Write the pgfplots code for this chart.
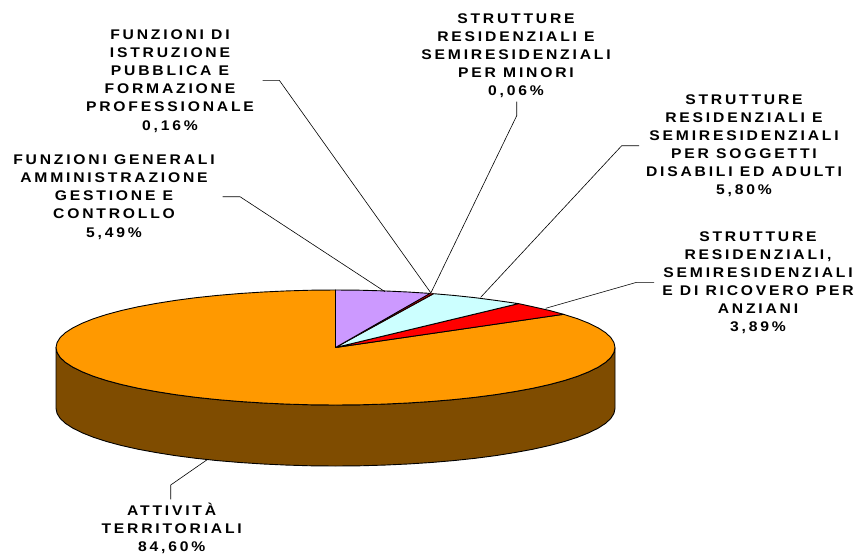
\documentclass[border=0pt]{standalone}
\usepackage{fontspec}
\setmainfont{Liberation Sans}
\newfontfamily\lblfont[LetterSpace=20,FakeStretch=1.12]{Liberation Sans Bold}
\usepackage{pgfplots}
\pgfplotsset{compat=1.18}
\definecolor{arancio}{HTML}{FF9900}
\definecolor{marrone}{HTML}{7F4C00}
\definecolor{lilla}{HTML}{CC99FF}
\definecolor{azzurro}{HTML}{CCFFFF}
\newcommand{\lab}[3]{\node[align=center,inner sep=0pt,font=\lblfont\fontsize{14}{18.1}\selectfont] at (axis cs:#1,#2) {#3};}
\begin{document}
\begin{tikzpicture}
\useasboundingbox (0,0) rectangle (861pt,554pt);
\begin{axis}[width=861pt,height=554pt,scale only axis,hide axis,clip=false,
  xmin=0,xmax=861,ymin=0,ymax=554,y dir=reverse]
% side wall of the disc
\addplot[draw=black,fill=marrone,line width=0.9pt,line join=round] coordinates {
 (615,347.5) (613.9,352.5) (610.8,357.5) (605.5,362.4) (598.1,367.2) (588.8,371.8) (577.6,376.25)
 (564.5,380.5) (549.6,384.5) (533.1,388.2) (515.2,391.5) (495.8,394.6) (475.25,397.3) (453.6,399.6)
 (431.1,401.5) (407.8,403) (384,404.1) (359.9,404.8) (335.5,405) (311.1,404.8) (287,404.1) (263.2,403)
 (239.9,401.5) (217.4,399.6) (195.75,397.3) (175.2,394.6) (155.8,391.5) (137.9,388.2) (121.4,384.5)
 (106.5,380.5) (93.4,376.25) (82.2,371.8) (72.9,367.2) (65.5,362.4) (60.2,357.5) (57.1,352.5) (56,347.5)
 (56,408.5) (57.1,413.5) (60.2,418.5) (65.5,423.4) (72.9,428.2) (82.2,432.8) (93.4,437.25) (106.5,441.5)
 (121.4,445.5) (137.9,449.2) (155.8,452.5) (175.2,455.6) (195.75,458.3) (217.4,460.6) (239.9,462.5)
 (263.2,464) (287,465.1) (311.1,465.8) (335.5,466) (359.9,465.8) (384,465.1) (407.8,464) (431.1,462.5)
 (453.6,460.6) (475.25,458.3) (495.8,455.6) (515.2,452.5) (533.1,449.2) (549.6,445.5) (564.5,441.5)
 (577.6,437.25) (588.8,432.8) (598.1,428.2) (605.5,423.4) (610.8,418.5) (613.9,413.5) (615,408.5) (615,347.5)};
% ATTIVITA' TERRITORIALI 84,60
\addplot[draw=black,fill=arancio,line width=0.9pt,line join=round] coordinates {
 (335.5,347.5) (563.5,314.3) (577.6,318.75) (588.8,323.2) (598.1,327.8) (605.5,332.6) (610.8,337.5)
 (613.9,342.5) (615,347.5) (613.9,352.5) (610.8,357.5) (605.5,362.4) (598.1,367.2) (588.8,371.8)
 (577.6,376.25) (564.5,380.5) (549.6,384.5) (533.1,388.2) (515.2,391.5) (495.8,394.6) (475.25,397.3)
 (453.6,399.6) (431.1,401.5) (407.8,403) (384,404.1) (359.9,404.8) (335.5,405) (311.1,404.8) (287,404.1)
 (263.2,403) (239.9,401.5) (217.4,399.6) (195.75,397.3) (175.2,394.6) (155.8,391.5) (137.9,388.2)
 (121.4,384.5) (106.5,380.5) (93.4,376.25) (82.2,371.8) (72.9,367.2) (65.5,362.4) (60.2,357.5) (57.1,352.5)
 (56,347.5) (57.1,342.5) (60.2,337.5) (65.5,332.6) (72.9,327.8) (82.2,323.2) (93.4,318.75) (106.5,314.5)
 (121.4,310.5) (137.9,306.8) (155.8,303.5) (175.2,300.4) (195.75,297.7) (217.4,295.4) (239.9,293.5)
 (263.2,292) (287,290.9) (311.1,290.2) (335.5,290) (335.5,347.5)};
% residenziali anziani 3,89
\addplot[draw=black,fill=red,line width=0.9pt,line join=round] coordinates {
 (335.5,347.5) (518.5,303.6) (533.1,306.8) (549.6,310.5) (563.5,314.3) (335.5,347.5)};
% disabili 5,80
\addplot[draw=black,fill=azzurro,line width=0.9pt,line join=round] coordinates {
 (335.5,347.5) (433.7,293.7) (453.6,295.4) (475.25,297.7) (495.8,300.4) (518.5,303.6) (335.5,347.5)};
% minori 0,06 and istruzione 0,16
\addplot[draw=black,fill=red,line width=0.4pt,line join=round] coordinates {
 (335.5,347.5) (432.7,293.6) (433.7,293.7) (335.5,347.5)};
\addplot[draw=black,fill=red,line width=0.4pt,line join=round] coordinates {
 (335.5,347.5) (430,293.4) (432.7,293.6) (335.5,347.5)};
% funzioni generali 5,49
\addplot[draw=black,fill=lilla,line width=0.9pt,line join=round] coordinates {
 (335.5,347.5) (335.5,290) (359.9,290.2) (384,290.9) (407.8,292) (430,293.4) (335.5,347.5)};
% leader lines
\addplot[black,line width=0.6pt] coordinates {(262.7,80.3) (279.3,80.3) (430.7,292.7)};
\addplot[black,line width=0.6pt] coordinates {(222.7,196.7) (240,196.7) (385,291.7)};
\addplot[black,line width=0.6pt] coordinates {(516.7,101.7) (516.7,115.7) (430.7,293.3)};
\addplot[black,line width=0.6pt] coordinates {(639,145.7) (621.7,145.7) (480.7,297.3)};
\addplot[black,line width=0.6pt] coordinates {(654,282.3) (636.7,282.3) (545.7,308.3)};
\addplot[black,line width=0.6pt] coordinates {(170.7,499.3) (170.7,485) (206.7,460)};
% labels
\lab{170}{81}{FUNZIONI DI\\ISTRUZIONE\\PUBBLICA E\\FORMAZIONE\\PROFESSIONALE\\0,16\%}
\lab{114}{197}{FUNZIONI GENERALI\\AMMINISTRAZIONE\\GESTIONE E\\CONTROLLO\\5,49\%}
\lab{516}{55.5}{STRUTTURE\\RESIDENZIALI E\\SEMIRESIDENZIALI\\PER MINORI\\0,06\%}
\lab{744}{145.5}{STRUTTURE\\RESIDENZIALI E\\SEMIRESIDENZIALI\\PER SOGGETTI\\DISABILI ED ADULTI\\5,80\%}
\lab{758}{282.5}{STRUTTURE\\RESIDENZIALI,\\SEMIRESIDENZIALI\\E DI RICOVERO PER\\ANZIANI\\3,89\%}
\lab{171.7}{528}{ATTIVITÀ\\TERRITORIALI\\84,60\%}
\end{axis}
\end{tikzpicture}
\end{document}
